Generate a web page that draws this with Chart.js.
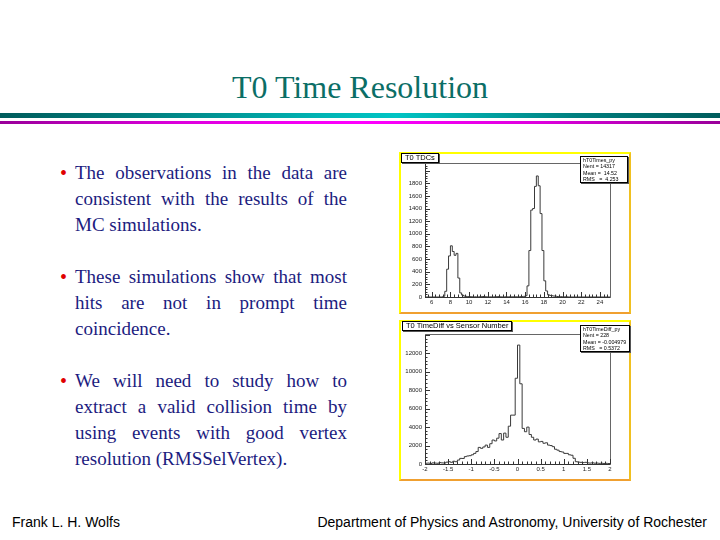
<!DOCTYPE html>
<html>
<head>
<meta charset="utf-8">
<script src="https://cdn.jsdelivr.net/npm/chart.js@4.4.0/dist/chart.umd.min.js"></script>
<style>
  html, body { margin:0; padding:0; background:#fff; }
  #slide { position:relative; width:720px; height:540px; overflow:hidden; background:#fff; }
  .abs { position:absolute; }
  #title { left:0; width:720px; top:71px; text-align:center; font-family:"Liberation Serif",serif; font-size:32px; line-height:32px; color:#0b6e66; }
  #bar1 { left:0; top:113px; width:720px; height:5px; background:linear-gradient(to right,#005c5c,#007f7f 20%,#00b5b5 45%,#00c4c4 55%,#007f7f 80%,#005c5c); }
  #bar2 { left:0; top:121px; width:720px; height:3px; background:linear-gradient(to right,#990099,#dd00dd 25%,#ff00ff 50%,#dd00dd 75%,#990099); }
  #text { left:75px; top:160px; width:272px; font-family:"Liberation Serif",serif; font-size:19px; line-height:26px; color:#1c1c80; }
  .ln { display:block; white-space:nowrap; }
  .j { text-align:justify; text-align-last:justify; white-space:normal; }
  .gap { height:26px; }
  .bul { position:absolute; left:-15px; top:0; color:#e00000; font-size:20px; }
  .para { position:relative; }
  .foot { font-family:"Liberation Sans",sans-serif; font-size:14px; line-height:14px; color:#000; top:515px; }
  .frame { border-style:solid; border-width:2px; border-color:#ffff00 #f0c020 #f0a030 #ffff00; box-sizing:border-box; background:#fff; }
  .tbox { border:1px solid #000; background:#fff; font-family:"Liberation Sans",sans-serif; font-size:7.5px; line-height:8px; color:#000; padding:0 3px; box-shadow:1px 1px 0 #555; white-space:nowrap; }
  .sbox { border:1px solid #000; background:#fff; font-family:"Liberation Sans",sans-serif; font-size:5.3px; line-height:6.3px; color:#000; padding:0 2px; box-shadow:1px 1px 0 #555; white-space:nowrap; }
</style>
</head>
<body>
<div id="slide">
  <div id="title" class="abs">T0 Time Resolution</div>
  <div id="bar1" class="abs"></div>
  <div id="bar2" class="abs"></div>

  <div id="text" class="abs">
    <div class="para"><span class="bul">•</span>
      <span class="ln j">The observations in the data are</span>
      <span class="ln j">consistent with the results of the</span>
      <span class="ln">MC simulations.</span>
    </div>
    <div class="gap"></div>
    <div class="para"><span class="bul">•</span>
      <span class="ln j">These simulations show that most</span>
      <span class="ln j">hits are not in prompt time</span>
      <span class="ln">coincidence.</span>
    </div>
    <div class="gap"></div>
    <div class="para"><span class="bul">•</span>
      <span class="ln j">We will need to study how to</span>
      <span class="ln j">extract a valid collision time by</span>
      <span class="ln j">using events with good vertex</span>
      <span class="ln">resolution (RMSSelVertex).</span>
    </div>
  </div>

  <div class="abs frame" style="left:399px;top:152px;width:232px;height:162px;"></div>
  <canvas id="c1" class="abs" width="228" height="158" style="left:401px;top:154px;"></canvas>
  <div class="abs tbox" style="left:401px;top:153px;">T0 TDCs</div>
  <div class="abs sbox" style="left:580px;top:156px;width:42px;">hT0Times_py<br>Nent = 14317<br>Mean =&nbsp; 14.52<br>RMS&nbsp;&nbsp; =&nbsp; 4.253</div>

  <div class="abs frame" style="left:399px;top:320px;width:232px;height:161px;"></div>
  <canvas id="c2" class="abs" width="228" height="157" style="left:401px;top:322px;"></canvas>
  <div class="abs tbox" style="left:402px;top:321px;">T0 TimeDiff vs Sensor Number</div>
  <div class="abs sbox" style="left:580px;top:325px;width:44px;">hT0TimeDiff_py<br>Nent = 228<br>Mean = -0.004979<br>RMS&nbsp;&nbsp; = 0.5372</div>

  <div class="abs foot" style="left:12px;">Frank L. H. Wolfs</div>
  <div class="abs foot" style="right:13px;">Department of Physics and Astronomy, University of Rochester</div>
</div>

<script>
// ---------- DATA ----------
// Top histogram: T0 TDCs (bins of width 0.2 starting at 7.0)
const topBinStart = 7.0;
const topBinWidth = 0.2;
const topCounts = [
  0, 12, 90, 440, 650, 810, 720, 660, 690, 300,          // 7.0 - 8.8
  65, 30, 15, 10, 6, 5, 4, 3, 3, 2,                       // 9.0 - 10.8
  3, 4, 8, 5, 3, 2, 2, 3, 2, 4,                           // 11.0 - 12.8
  6, 3, 2, 2, 3, 2, 3, 2, 3, 4,                           // 13.0 - 14.8
  3, 4, 5, 6, 10, 20, 176, 735, 1375, 1400,               // 15.0 - 16.8
  1750, 1915, 1760, 1320, 735, 256, 96, 35, 25, 20,       // 17.0 - 18.8
  15, 12, 8, 6, 5, 4, 3, 2, 0                             // 19.0 - 20.6
];
const topXRange = [5.28, 25.08];
const topYMax = 2120;
const topXTicks = [6, 8, 10, 12, 14, 16, 18, 20, 22, 24];
const topYTicks = [0, 200, 400, 600, 800, 1000, 1200, 1400, 1600, 1800];

// Bottom histogram: T0 TimeDiff (80 bins of width 0.05 from -2 to 2)
const bottomBinStart = -2.0;
const bottomBinWidth = 0.05;
const bottomCounts = [
  80, 100, 60, 120, 100, 80, 150, 120, 100, 200,              // -2.00 .. -1.55
  250, 180, 300, 250, 430, 610, 600, 800, 870, 900,           // -1.50 .. -1.05
  1000, 1150, 1350, 1800, 1700, 1850, 2050, 1800, 2200, 2600, // -1.00 .. -0.55
  2500, 2800, 3300, 2600, 3350, 2900, 4100, 5300, 5300, 9300, // -0.50 .. -0.05
  12900, 8700, 3860, 3500, 4000, 3200, 2900, 2600, 2700, 2400,// 0.00 .. 0.45
  2450, 2250, 2300, 2050, 2000, 1880, 1600, 1500, 1350, 1300, // 0.50 .. 0.95
  1150, 1150, 1000, 950, 620, 250, 200, 180, 150, 180,        // 1.00 .. 1.45
  120, 100, 130, 90, 100, 70, 80, 60, 70, 50                  // 1.50 .. 1.95
];
const bottomXRange = [-2, 2];
const bottomYMax = 14100;
const bottomXTicks = [-2, -1.5, -1, -0.5, 0, 0.5, 1, 1.5, 2];
const bottomYTicks = [0, 2000, 4000, 6000, 8000, 10000, 12000];

// ---------- HELPERS ----------
function histPoints(start, width, counts, xmin, xmax) {
  const pts = [{x: xmin, y: 0}];
  counts.forEach((c, i) => pts.push({x: +(start + i * width).toFixed(4), y: c}));
  pts.push({x: +(start + counts.length * width).toFixed(4), y: 0});
  if (xmax > start + counts.length * width) pts.push({x: xmax, y: 0});
  return pts;
}

const rootFrame = {
  id: 'rootFrame',
  afterDatasetsDraw(chart, args, opts) {
    const {ctx, chartArea: a, scales: {x, y}} = chart;
    ctx.save();
    ctx.lineWidth = 1;
    ctx.strokeStyle = '#666';
    ctx.beginPath();
    ctx.moveTo(Math.round(a.left) + 0.5, Math.round(a.top) + 0.5);
    ctx.lineTo(Math.round(a.right) + 0.5, Math.round(a.top) + 0.5);
    ctx.lineTo(Math.round(a.right) + 0.5, Math.round(a.bottom) + 0.5);
    ctx.stroke();
    ctx.strokeStyle = '#333';
    ctx.beginPath();
    ctx.moveTo(Math.round(a.left) + 0.5, Math.round(a.top) + 0.5);
    ctx.lineTo(Math.round(a.left) + 0.5, Math.round(a.bottom) + 0.5);
    ctx.lineTo(Math.round(a.right) + 0.5, Math.round(a.bottom) + 0.5);
    ctx.stroke();
    // inward ticks: major and minor
    ctx.strokeStyle = '#333';
    ctx.beginPath();
    const xs = opts.xStep, ys = opts.yStep;
    for (let k = Math.ceil(x.min / (xs / 5) - 1e-6); k * xs / 5 <= x.max + 1e-9; k++) {
      const v = k * xs / 5;
      const major = Math.abs(v / xs - Math.round(v / xs)) < 1e-6;
      const px = Math.round(x.getPixelForValue(v)) + 0.5;
      ctx.moveTo(px, a.bottom);
      ctx.lineTo(px, a.bottom - (major ? 5 : 2.5));
    }
    for (let k = 0; k * ys / 5 <= y.max + 1e-9; k++) {
      const v = k * ys / 5;
      const major = k % 5 === 0;
      const py = Math.round(y.getPixelForValue(v)) + 0.5;
      ctx.moveTo(a.left, py);
      ctx.lineTo(a.left + (major ? 5 : 2.5), py);
    }
    ctx.stroke();
    ctx.restore();
  }
};

function makeChart(id, pts, xr, ymax, xt, yt, pad, xStep, yStep) {
  return new Chart(document.getElementById(id), {
    type: 'line',
    data: { datasets: [{ data: pts, stepped: 'before', borderColor: '#3a3a3a', borderWidth: 1, pointRadius: 0, fill: false, tension: 0 }] },
    options: {
      responsive: false, animation: false, devicePixelRatio: 1,
      layout: { padding: pad },
      plugins: { legend: { display: false }, tooltip: { enabled: false }, rootFrame: { xStep, yStep } },
      scales: {
        x: {
          type: 'linear', min: xr[0], max: xr[1],
          afterBuildTicks: s => { s.ticks = xt.map(v => ({value: v})); },
          afterFit: s => { s.height = 15; },
          grid: { display: false, drawTicks: false },
          border: { display: false },
          ticks: { font: { family: 'Liberation Sans', size: 6 }, color: '#222', padding: 2, maxRotation: 0, autoSkip: false,
                   callback: v => String(v) }
        },
        y: {
          type: 'linear', min: 0, max: ymax,
          afterBuildTicks: s => { s.ticks = yt.map(v => ({value: v})); },
          afterFit: s => { s.width = 24; },
          grid: { display: false, drawTicks: false },
          border: { display: false },
          ticks: { font: { family: 'Liberation Sans', size: 6 }, color: '#222', padding: 3, autoSkip: false,
                   callback: v => String(v) }
        }
      }
    },
    plugins: [rootFrame]
  });
}

makeChart('c1', histPoints(topBinStart, topBinWidth, topCounts, topXRange[0], topXRange[1]),
  topXRange, topYMax, topXTicks, topYTicks, {left: 0, right: 19, top: 9, bottom: 0}, 2, 200);
makeChart('c2', histPoints(bottomBinStart, bottomBinWidth, bottomCounts, bottomXRange[0], bottomXRange[1]),
  bottomXRange, bottomYMax, bottomXTicks, bottomYTicks, {left: 0, right: 19, top: 12, bottom: 0}, 0.5, 2000);
</script>
</body>
</html>
